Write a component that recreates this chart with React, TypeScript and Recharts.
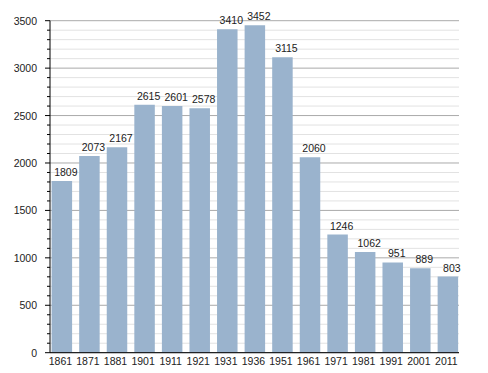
import { BarChart, Bar, XAxis, YAxis, CartesianGrid, LabelList } from "recharts"

const years = ["1861", "1871", "1881", "1901", "1911", "1921", "1931", "1936", "1951", "1961", "1971", "1981", "1991", "2001", "2011"]
const population = [1809, 2073, 2167, 2615, 2601, 2578, 3410, 3452, 3115, 2060, 1246, 1062, 951, 889, 803]

const majorTicks = [0, 500, 1000, 1500, 2000, 2500, 3000, 3500]
const minorTicks = [
  100, 200, 300, 400, 600, 700, 800, 900, 1100, 1200, 1300, 1400, 1600, 1700, 1800, 1900,
  2100, 2200, 2300, 2400, 2600, 2700, 2800, 2900, 3100, 3200, 3300, 3400,
]
const allTicks = [...majorTicks, ...minorTicks].sort((a, b) => a - b)

const data = years.map((year, i) => ({ year, value: population[i] }))

const font = "'Liberation Sans', Arial, sans-serif"
const textColor = "#222"

function YTick({ x, y, payload }: any) {
  const major = payload.value % 500 === 0
  return (
    <g>
      <line x1={x - (major ? 5 : 3)} x2={x} y1={y} y2={y} stroke="#000" />
      {major && (
        <text x={x - 13} y={y + 4} textAnchor="end" fontSize={10.5} fontFamily={font} fill={textColor}>
          {payload.value}
        </text>
      )}
    </g>
  )
}

function XTick({ x, y, payload }: any) {
  return (
    <text x={x - 1} y={y + 12} textAnchor="middle" fontSize={10.5} fontFamily={font} fill={textColor}>
      {payload.value}
    </text>
  )
}

function ValueLabel(p: any) {
  return (
    <text
      x={p.x + p.width / 2 + 4}
      y={p.y - 5}
      textAnchor="middle"
      fontSize={10.5}
      fontFamily={font}
      fill={textColor}
    >
      {p.value}
    </text>
  )
}

export default function App() {
  return (
    <BarChart
      width={480}
      height={365}
      data={data}
      margin={{ top: 12.7, right: 29, bottom: 0, left: 0 }}
    >
      <CartesianGrid vertical={false} horizontalValues={minorTicks} stroke="#e2e2e2" />
      <CartesianGrid vertical={false} horizontalValues={majorTicks} stroke="#aaaaaa" />
      <XAxis
        dataKey="year"
        interval={0}
        height={20.3}
        padding={{ left: -2.4, right: -2.2 }}
        tickLine={false}
        tickSize={0}
        tickMargin={0}
        tick={<XTick />}
        axisLine={{ stroke: "#000" }}
      />
      <YAxis
        domain={[0, 3500]}
        ticks={allTicks}
        interval={0}
        width={42}
        tickLine={false}
        tickSize={0}
        tickMargin={0}
        tick={<YTick />}
        axisLine={{ stroke: "#000" }}
      />
      <Bar dataKey="value" fill="#9ab3cd" barSize={20.5} isAnimationActive={false}>
        <LabelList dataKey="value" content={<ValueLabel />} />
      </Bar>
    </BarChart>
  )
}
